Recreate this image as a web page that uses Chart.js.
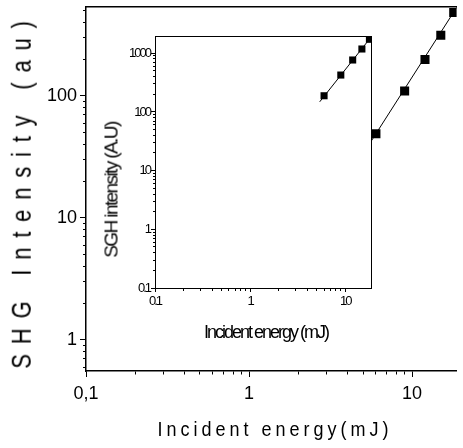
<!DOCTYPE html>
<html>
<head>
<meta charset="utf-8">
<script src="https://cdn.jsdelivr.net/npm/chart.js@4.4.1/dist/chart.umd.min.js"></script>
<style>
  html, body { margin: 0; padding: 0; background: #fff; }
  #wrap { position: relative; width: 463px; height: 448px; overflow: hidden;
          font-family: 'Liberation Sans', Arial, sans-serif; color: #000; }
  #main-chart { position: absolute; left: 0; top: 0; }
  #inset-chart { position: absolute; left: 100px; top: 30px; }
  .title { position: absolute; white-space: nowrap; line-height: 1; }
  #main-y-title { left: 22px; top: 190px; font-size: 22px; letter-spacing: 9.8px;
                  transform: translate(-50%, -50%) rotate(-90deg) scaleY(1.25); }
  #main-x-title { left: 275px; top: 429px; font-size: 18px; letter-spacing: 4px;
                  transform: translate(-50%, -50%) scaleY(1.1); }
  #inset-y-title { left: 111px; top: 190px; font-size: 19px; letter-spacing: -1.6px;
                   transform: translate(-50%, -50%) rotate(-90deg); }
  #inset-x-title { left: 266px; top: 332px; font-size: 18px; letter-spacing: -2px;
                   transform: translate(-50%, -50%); }
</style>
</head>
<body>
<div id="wrap">
  <canvas id="main-chart" width="463" height="448"></canvas>
  <canvas id="inset-chart" width="276" height="320"></canvas>
  <div class="title" id="main-y-title">SHG Intensity (au)</div>
  <div class="title" id="main-x-title">Incident energy(mJ)</div>
  <div class="title" id="inset-y-title">SGH intensity (A.U)</div>
  <div class="title" id="inset-x-title">Incident energy (mJ)</div>
</div>
<script>
// values
const energy = [6, 9, 12, 15, 18];                  // mJ, same for both plots
const shgIntensity = [49, 110, 199, 314, 483];      // main plot (au)
const insetIntensity = [189, 426, 769, 1184, 1733]; // inset (A.U)

// straight fit lines (end points)
const fitEnergy = [4, 20];
const fitIntensity = [21, 607];
const insetFitEnergy = [5.4, 18.7];
const insetFitIntensity = [149, 1884];

// tick labels
const mainXTicks = [0.1, 1, 10];
const mainXLabels = ['0,1', '1', '10'];
const mainYTicks = [1, 10, 100];
const mainYLabels = ['1', '10', '100'];
const insetXTicks = [0.1, 1, 10];
const insetXLabels = ['0.1', '1', '10'];
const insetYTicks = [0.1, 1, 10, 100, 1000];
const insetYLabels = ['0.1', '1', '10', '100', '1000'];

const FONT = "'Liberation Sans', Arial, sans-serif";

function toPoints(xs, ys) {
    return xs.map((x, i) => ({ x: x, y: ys[i] }));
}

function isDecade(v) {
    const l = Math.log10(v);
    return Math.abs(l - Math.round(l)) < 1e-6;
}

// 1..9 of every decade, like an Origin log axis
function decadeTicks(scale) {
    const ticks = [];
    const lo = Math.floor(Math.log10(scale.min));
    const hi = Math.ceil(Math.log10(scale.max));
    for (let e = lo; e <= hi; e++) {
        for (let m = 1; m <= 9; m++) {
            const v = +(m * Math.pow(10, e)).toPrecision(6);
            if (v >= scale.min * 0.9999 && v <= scale.max * 1.0001) {
                ticks.push({ value: v, major: m === 1 });
            }
        }
    }
    scale.ticks = ticks;
}

function labelFor(values, labels) {
    return (value) => {
        const i = values.findIndex(v => Math.abs(v - value) / v < 1e-6);
        return i < 0 ? '' : labels[i];
    };
}

function fixSize(prop, size) {
    return (scale) => {
        scale[prop] = size;
        scale.paddingTop = 0;
        scale.paddingBottom = 0;
        scale.paddingLeft = 0;
        scale.paddingRight = 0;
    };
}

// minor ticks are drawn shorter with a dash pattern
function bottomDash(minorLen) {
    return (ctx) => (ctx.tick && isDecade(ctx.tick.value)) ? [] : [minorLen, 50];
}
function leftDash(majorLen, minorLen) {
    return (ctx) => (ctx.tick && isDecade(ctx.tick.value)) ? [] : [0, majorLen - minorLen, minorLen, 50];
}

function logAxis(opts) {
    return {
        type: 'logarithmic',
        position: opts.position,
        min: opts.min,
        max: opts.max,
        afterBuildTicks: decadeTicks,
        afterFit: fixSize(opts.position === 'left' ? 'width' : 'height', opts.size),
        border: { display: true, color: '#000', width: opts.lineWidth },
        grid: {
            display: true,
            drawOnChartArea: false,
            drawTicks: true,
            tickLength: opts.major,
            tickColor: '#000',
            tickWidth: 1,
            tickBorderDash: opts.position === 'left'
                ? leftDash(opts.major, opts.minor)
                : bottomDash(opts.minor)
        },
        ticks: {
            autoSkip: false,
            maxRotation: 0,
            padding: opts.padding,
            color: '#000',
            font: { family: FONT, size: opts.fontSize },
            callback: labelFor(opts.values, opts.labels)
        },
        title: { display: false }
    };
}

function frameAxis(position, lineWidth) {
    return {
        type: 'linear',
        position: position,
        min: 0,
        max: 1,
        afterFit: fixSize(position === 'top' ? 'height' : 'width', 0),
        border: { display: true, color: '#000', width: lineWidth },
        grid: { display: false },
        ticks: { display: false }
    };
}

const insetBackground = {
    id: 'insetBackground',
    beforeDraw(chart) {
        const { ctx, chartArea } = chart;
        ctx.save();
        ctx.fillStyle = '#fff';
        ctx.fillRect(chartArea.left, chartArea.top,
            chartArea.right - chartArea.left, chartArea.bottom - chartArea.top);
        ctx.restore();
        // the inset lettering is very condensed
        ctx.letterSpacing = '-2px';
    },
    afterDraw(chart) {
        chart.ctx.letterSpacing = '0px';
    }
};

const commonOptions = {
    responsive: false,
    animation: false,
    devicePixelRatio: 1,
    plugins: { legend: { display: false }, tooltip: { enabled: false } }
};

// Main chart
new Chart(document.getElementById('main-chart'), {
    type: 'line',
    data: {
        datasets: [
            {
                data: toPoints(energy, shgIntensity),
                showLine: false,
                pointStyle: 'rect',
                pointRadius: 6.4,
                pointBackgroundColor: '#000',
                pointBorderWidth: 0
            },
            {
                data: toPoints(fitEnergy, fitIntensity),
                borderColor: '#000',
                borderWidth: 1,
                pointRadius: 0,
                tension: 0
            }
        ]
    },
    options: {
        ...commonOptions,
        layout: { padding: { top: 6, right: 0, left: 0, bottom: 0 } },
        scales: {
            x: logAxis({ position: 'bottom', min: 0.1, max: 18.75, size: 77, major: 6, minor: 3,
                padding: 6, fontSize: 18, lineWidth: 1.5, values: mainXTicks, labels: mainXLabels }),
            y: logAxis({ position: 'left', min: 0.557, max: 542, size: 86, major: 6, minor: 3,
                padding: 3, fontSize: 18, lineWidth: 1.5, values: mainYTicks, labels: mainYLabels }),
            xTop: frameAxis('top', 1.5)
        }
    }
});

// Inset chart
new Chart(document.getElementById('inset-chart'), {
    type: 'line',
    data: {
        datasets: [
            {
                data: toPoints(energy, insetIntensity),
                showLine: false,
                pointStyle: 'rect',
                pointRadius: 5,
                pointBackgroundColor: '#000',
                pointBorderWidth: 0
            },
            {
                data: toPoints(insetFitEnergy, insetFitIntensity),
                borderColor: '#000',
                borderWidth: 1,
                pointRadius: 0,
                tension: 0
            }
        ]
    },
    options: {
        ...commonOptions,
        layout: { padding: { top: 6, right: 3, left: 0, bottom: 0 } },
        scales: {
            x: logAxis({ position: 'bottom', min: 0.1, max: 18.7, size: 62, major: 4, minor: 2,
                padding: 2, fontSize: 13, lineWidth: 1, values: insetXTicks, labels: insetXLabels }),
            y: logAxis({ position: 'left', min: 0.1, max: 1972, size: 55, major: 4, minor: 2,
                padding: 1, fontSize: 13, lineWidth: 1, values: insetYTicks, labels: insetYLabels }),
            xTop: frameAxis('top', 1),
            yRight: frameAxis('right', 1)
        }
    },
    plugins: [insetBackground]
});
</script>
</body>
</html>
